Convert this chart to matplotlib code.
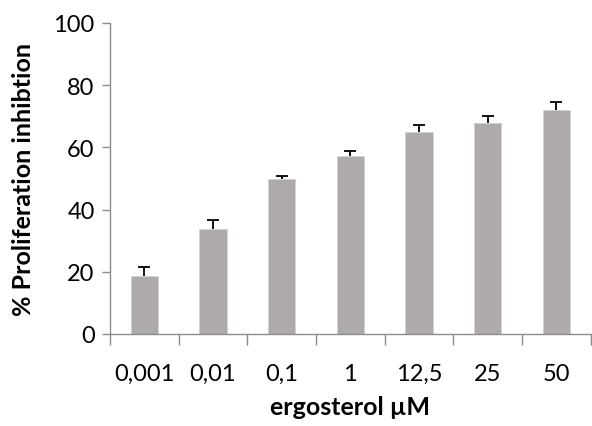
import matplotlib
matplotlib.use("Agg")
import matplotlib.pyplot as plt
import numpy as np

categories = ["0,001", "0,01", "0,1", "1", "12,5", "25", "50"]
inhibition = [18.6, 33.7, 49.8, 57.2, 65.0, 67.9, 72.0]
errors = [3.0, 2.9, 1.0, 1.6, 2.1, 2.3, 2.7]
y_ticks = [0, 20, 40, 60, 80, 100]

plt.rcParams["font.family"] = ["Lato", "DejaVu Sans"]

fig = plt.figure(figsize=(5.92, 4.27), dpi=100)
ax = fig.add_axes([0.1858, 0.2155, 0.812, 0.7283])

x = np.arange(len(categories))
vals = np.array(inhibition)
tops = vals + np.array(errors)
ax.bar(x, vals, width=0.40, color="#aeaaa9", edgecolor="#d4d2d1",
       linewidth=0.6, zorder=2)

# upper-only error bars with caps
cap_half = 0.0875
ax.vlines(x, vals, tops, colors="black", linewidth=1.3, zorder=3)
ax.hlines(tops, x - cap_half, x + cap_half, colors="black", linewidth=1.3,
          zorder=3)

ax.set_xlim(-0.5, len(categories) - 0.5)
ax.set_ylim(0, 100)
ax.set_yticks(y_ticks)
ax.set_xticks(x)
ax.set_xticklabels(categories)
ax.set_xticks(np.arange(-0.5, len(categories) + 0.5, 1.0), minor=True)

for side in ("top", "right"):
    ax.spines[side].set_visible(False)
for side in ("left", "bottom"):
    ax.spines[side].set_color("#8c8c8c")
    ax.spines[side].set_linewidth(1.0)

ax.tick_params(axis="y", direction="out", length=6, width=1.0, color="#8c8c8c",
               labelsize=17, pad=5)
ax.tick_params(axis="x", which="major", length=0, labelsize=17, pad=21)
ax.tick_params(axis="x", which="minor", direction="out", length=8, width=1.0,
               color="#8c8c8c")

ax.set_ylabel("% Proliferation inhibtion", fontsize=18, fontweight="bold",
              labelpad=13)
ax.set_xlabel("ergosterol µM", fontsize=18, fontweight="bold", labelpad=8)

fig.savefig("out.png", dpi=100)
